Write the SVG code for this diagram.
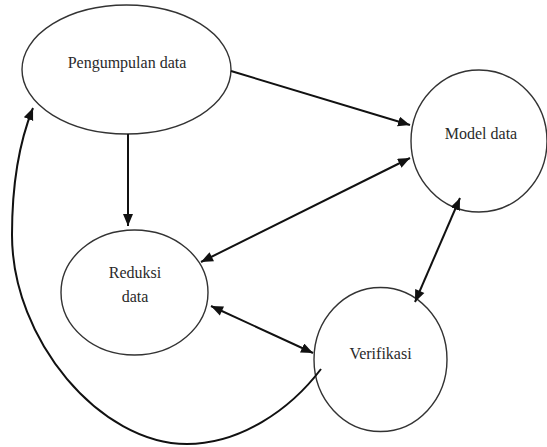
<svg xmlns="http://www.w3.org/2000/svg" width="547" height="447" viewBox="0 0 547 447">
<style>
.node{fill:#fff;stroke:#333;stroke-width:1.4}
.lbl{font-family:'Liberation Serif','DejaVu Serif',serif;font-size:16px;fill:#2a2a2a;text-anchor:middle}
.edge{fill:none;stroke:#111;stroke-width:2}
</style>
<defs>
<marker id="ah" markerUnits="userSpaceOnUse" markerWidth="13" markerHeight="11" refX="12" refY="5" orient="auto">
<path d="M0,0 L12,5 L0,10 z" fill="#111"/>
</marker>
<marker id="as" markerUnits="userSpaceOnUse" markerWidth="13" markerHeight="11" refX="0" refY="5" orient="auto">
<path d="M12,0 L0,5 L12,10 z" fill="#111"/>
</marker>
</defs>
<rect width="547" height="447" fill="#fff"/>
<g id="n-pengumpulan">
<ellipse class="node" cx="126.5" cy="69.5" rx="104.5" ry="64.5"/>
<text class="lbl" x="127" y="68" font-family="Liberation Serif, serif">Pengumpulan data</text>
</g>
<g id="n-model">
<ellipse class="node" cx="479" cy="141" rx="68" ry="71"/>
<text class="lbl" x="481" y="139" font-family="Liberation Serif, serif">Model data</text>
</g>
<g id="n-reduksi">
<ellipse class="node" cx="134.5" cy="292.5" rx="73.5" ry="62.5"/>
<text class="lbl" x="135" y="278" font-family="Liberation Serif, serif">Reduksi</text>
<text class="lbl" x="135" y="302" font-family="Liberation Serif, serif">data</text>
</g>
<g id="n-verifikasi">
<ellipse class="node" cx="380.5" cy="359.5" rx="66.5" ry="72"/>
<text class="lbl" x="380.5" y="359" font-family="Liberation Serif, serif">Verifikasi</text>
</g>
<g id="connectors">
<line class="edge" x1="231" y1="71" x2="410" y2="125" marker-end="url(#ah)"/>
<line class="edge" x1="128" y1="134" x2="128" y2="226" marker-end="url(#ah)"/>
<line class="edge" x1="201" y1="262" x2="410" y2="158" marker-start="url(#as)" marker-end="url(#ah)"/>
<line class="edge" x1="415" y1="302" x2="460" y2="198" marker-start="url(#as)" marker-end="url(#ah)"/>
<line class="edge" x1="211" y1="306" x2="313" y2="353" marker-start="url(#as)" marker-end="url(#ah)"/>
<path class="edge" d="M321,369 C290,410 240,444 187,444 C100,444 12,340 12,235 C12,180 20,140 33,108" marker-end="url(#ah)"/>
</g>
</svg>
